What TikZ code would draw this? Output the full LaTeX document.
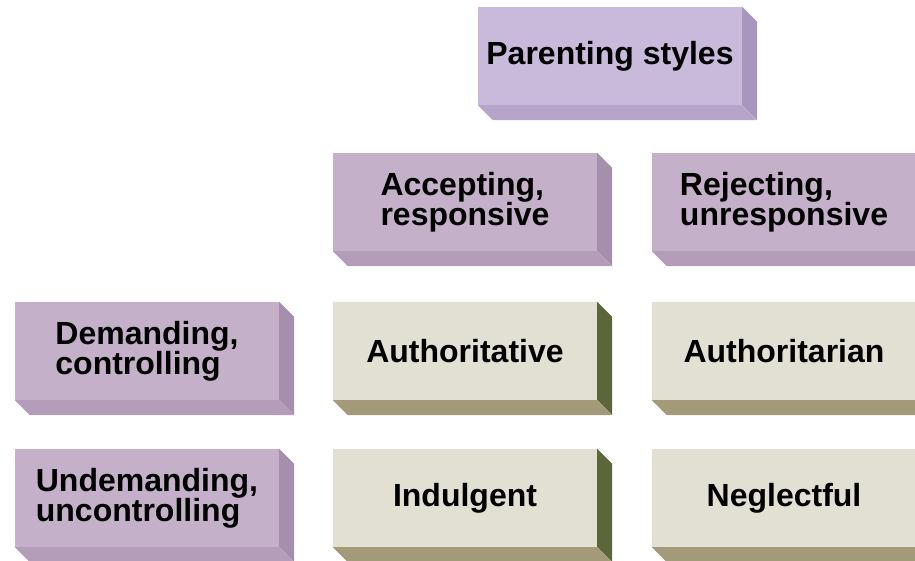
\documentclass[tikz,border=0pt]{standalone}
\usepackage{fontspec}
\setmainfont{Liberation Sans}
\usetikzlibrary{positioning}
\definecolor{lavender}{HTML}{C9BADC}
\definecolor{lavenderside}{HTML}{A996BE}
\definecolor{lavenderbottom}{HTML}{B7A4CB}
\definecolor{mauve}{HTML}{C5B0C9}
\definecolor{mauveside}{HTML}{A58FAC}
\definecolor{mauvebottom}{HTML}{B49DB9}
\definecolor{parchment}{HTML}{E2DFD3}
\definecolor{oliveside}{HTML}{5B673B}
\definecolor{olivebottom}{HTML}{A29A78}
\tikzset{
  facebox/.style={minimum width=264pt, minimum height=98pt, inner sep=0pt,
    align=left, font=\bfseries\fontsize{32}{30}\selectfont},
  axisbox/.style={facebox, fill=mauve},
  stylebox/.style={facebox, fill=parchment}
}
% side and bottom of a box: node, side colour, bottom colour
\newcommand{\slab}[3]{%
  \fill[#2] (#1.north east) -- ++(15,15) -- ([shift={(15,15)}]#1.south east) -- (#1.south east) -- cycle;
  \fill[#3] (#1.south west) -- (#1.south east) -- ([shift={(15,15)}]#1.south east) -- ([shift={(15,15)}]#1.south west) -- cycle;}

\begin{document}
\begin{tikzpicture}[x=1pt, y=-1pt]
  \useasboundingbox (0,0) rectangle (915,561);

  % Box for the title
  \node[facebox, fill=lavender] (title) at (610,56) {Parenting styles};
  \slab{title}{lavenderside}{lavenderbottom}

  % Boxes for responsiveness
  \node[axisbox] (accepting) at (465,202) {Accepting,\\responsive};
  \slab{accepting}{mauveside}{mauvebottom}
  \node[axisbox] (rejecting) at (784,202) {Rejecting,\\unresponsive};
  \slab{rejecting}{mauveside}{mauvebottom}

  % Boxes for demandingness
  \node[axisbox] (demanding) at (147,351) {Demanding,\\controlling};
  \slab{demanding}{mauveside}{mauvebottom}
  \node[axisbox] (undemanding) at (147,498) {Undemanding,\\uncontrolling};
  \slab{undemanding}{mauveside}{mauvebottom}

  % Boxes for the four styles
  \node[stylebox] (authoritative) at (465,351) {Authoritative};
  \slab{authoritative}{oliveside}{olivebottom}
  \node[stylebox] (authoritarian) at (784,351) {Authoritarian};
  \slab{authoritarian}{oliveside}{olivebottom}
  \node[stylebox] (indulgent) at (465,498) {Indulgent};
  \slab{indulgent}{oliveside}{olivebottom}
  \node[stylebox] (neglectful) at (784,498) {Neglectful};
  \slab{neglectful}{oliveside}{olivebottom}
\end{tikzpicture}
\end{document}
